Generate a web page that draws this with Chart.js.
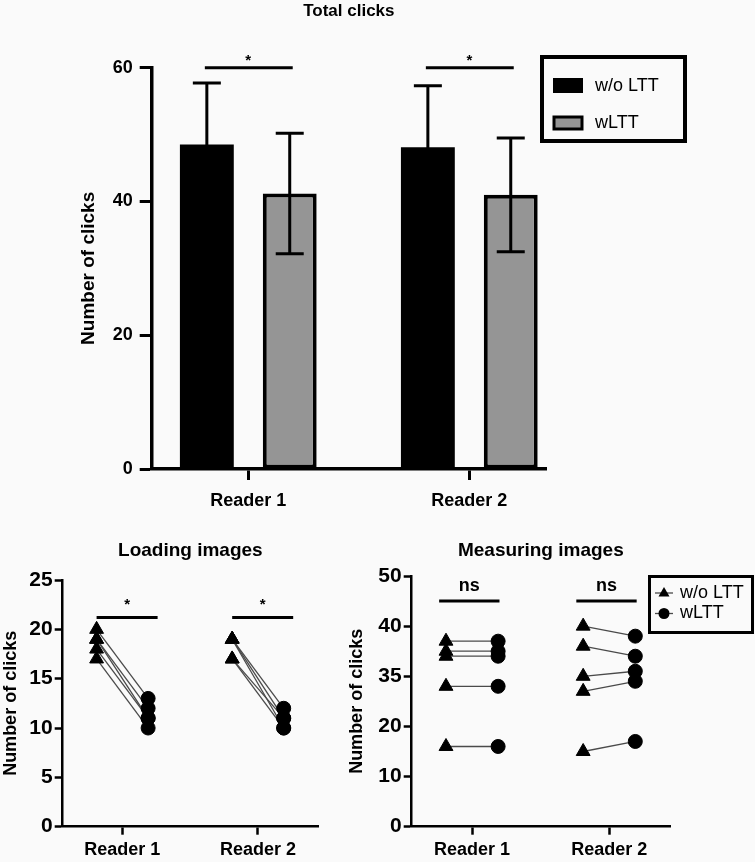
<!DOCTYPE html>
<html>
<head>
<meta charset="utf-8">
<script src="https://cdn.jsdelivr.net/npm/chart.js@4.4.0/dist/chart.umd.min.js"></script>
<style>
body { margin: 0; background: #fafafa; }
#wrap { position: relative; width: 755px; height: 862px; }
canvas { position: absolute; }
</style>
</head>
<body>
<div id="wrap">
  <canvas id="total" width="755" height="520" style="left:0;top:0"></canvas>
  <canvas id="loading" width="340" height="342" style="left:0;top:520px"></canvas>
  <canvas id="measuring" width="415" height="342" style="left:340px;top:520px"></canvas>
</div>
<script>
// ---- data ----
var readers = ['Reader 1', 'Reader 2'];
var readerPos = [1, 2];
var groups = ['w/o LTT', 'wLTT'];

// total clicks (mean and SD)
var totalWithout = [48.5, 48.1];
var totalWithoutSD = [9.2, 9.2];
var totalWith = [41.2, 41.0];
var totalWithSD = [9.0, 8.5];
var totalSig = ['*', '*'];

// loading images, paired values per reader
var loadWithoutR1 = [20, 19, 19, 18, 17];
var loadWithR1 = [13, 12, 11, 11, 10];
var loadWithoutR2 = [19, 19, 19, 17, 17];
var loadWithR2 = [12, 11, 10, 11, 10];
var loadSig = ['*', '*'];
var loadTicks = ['0', '5', '10', '15', '20', '25'];

// measuring images, paired values per reader
var measWithoutR1 = [37, 35, 34, 28, 16];
var measWithR1 = [37, 35, 34, 28, 16];
var measWithoutR2 = [40, 36, 30, 27, 15];
var measWithR2 = [38, 34, 31, 29, 17];
var measSig = ['ns', 'ns'];
var measTicks = ['0', '10', '20', '35', '40', '50'];

/*****************************************/
var FONT = '"Liberation Sans", Arial, sans-serif';
Chart.defaults.font.family = FONT;
Chart.defaults.color = '#000';

// titre au dessus de la zone du graphe
function titlePlugin(text, y, size) {
  return {
    id: 'titre',
    afterDraw: function(chart) {
      var ctx = chart.ctx, a = chart.chartArea;
      ctx.save();
      ctx.font = 'bold ' + size + 'px ' + FONT;
      ctx.fillStyle = '#000';
      ctx.textAlign = 'center';
      ctx.textBaseline = 'middle';
      ctx.fillText(text, (a.left + a.right) / 2, y);
      ctx.restore();
    }
  };
}

// barres d'erreur + lignes de significativite
var errorBars = {
  id: 'errorBars',
  afterDatasetsDraw: function(chart) {
    var ctx = chart.ctx, ys = chart.scales.y;
    var sds = [totalWithoutSD, totalWithSD];
    ctx.save();
    ctx.strokeStyle = '#000';
    ctx.lineWidth = 3;
    chart.data.datasets.forEach(function(ds, i) {
      chart.getDatasetMeta(i).data.forEach(function(bar, j) {
        var m = ds.data[j].y, sd = sds[i][j];
        var top = ys.getPixelForValue(m + sd), bot = ys.getPixelForValue(m - sd);
        ctx.beginPath();
        ctx.moveTo(bar.x, top); ctx.lineTo(bar.x, bot);
        ctx.moveTo(bar.x - 14, top); ctx.lineTo(bar.x + 14, top);
        ctx.moveTo(bar.x - 14, bot); ctx.lineTo(bar.x + 14, bot);
        ctx.stroke();
      });
    });
    // significativite
    var m0 = chart.getDatasetMeta(0).data, m1 = chart.getDatasetMeta(1).data;
    var yl = ys.getPixelForValue(60);
    ctx.font = 'bold 15px ' + FONT;
    ctx.fillStyle = '#000';
    ctx.textAlign = 'center';
    ctx.textBaseline = 'middle';
    for (var j = 0; j < m0.length; j++) {
      ctx.beginPath();
      ctx.moveTo(m0[j].x - 2, yl); ctx.lineTo(m1[j].x + 3, yl);
      ctx.stroke();
      ctx.fillText(totalSig[j], (m0[j].x + m1[j].x) / 2, yl - 7);
    }
    ctx.restore();
  }
};

var totalLegend = {
  id: 'totalLegend',
  afterDraw: function(chart) {
    var ctx = chart.ctx;
    ctx.save();
    ctx.strokeStyle = '#000';
    ctx.lineWidth = 4;
    ctx.strokeRect(542, 57, 143, 84);
    ctx.font = '18px ' + FONT;
    ctx.textBaseline = 'middle';
    ctx.fillStyle = '#000';
    ctx.fillRect(553, 78, 30, 15);
    ctx.fillText(chart.data.datasets[0].label, 595, 86);
    ctx.fillStyle = chart.data.datasets[1].backgroundColor;
    ctx.fillRect(554, 117, 28, 12);
    ctx.lineWidth = 3;
    ctx.strokeRect(554, 117, 28, 12);
    ctx.fillStyle = '#000';
    ctx.fillText(chart.data.datasets[1].label, 595, 123);
    ctx.restore();
  }
};

new Chart(document.getElementById('total'), {
  type: 'bar',
  data: {
    datasets: [{
      label: groups[0],
      data: readerPos.map(function(x, i) { return {x: x, y: totalWithout[i]}; }),
      backgroundColor: '#000',
      borderWidth: 0
    }, {
      label: groups[1],
      data: readerPos.map(function(x, i) { return {x: x, y: totalWith[i]}; }),
      backgroundColor: '#959595',
      borderColor: '#000',
      borderWidth: 4,
      borderSkipped: false
    }]
  },
  options: {
    responsive: false,
    animation: false,
    devicePixelRatio: 1,
    layout: {padding: {left: 70, top: 67.7, right: 209, bottom: 0}},
    datasets: {bar: {categoryPercentage: 0.75, barPercentage: 0.65}},
    plugins: {legend: {display: false}, tooltip: {enabled: false}},
    scales: {
      x: {
        type: 'linear', min: 0.563, max: 2.347, offset: false,
        afterBuildTicks: function(s) { s.ticks = readerPos.map(function(v) { return {value: v}; }); },
        afterFit: function(s) { s.height = 51; },
        ticks: {callback: function(v, i) { return readers[i]; }, font: {size: 18, weight: 'bold'}, padding: 10, maxRotation: 0},
        grid: {offset: false, drawOnChartArea: false, tickLength: 11, tickWidth: 3, tickColor: '#000'},
        border: {color: '#000', width: 3.5}
      },
      y: {
        min: 0, max: 60,
        afterFit: function(s) { s.width = 81.7; },
        ticks: {stepSize: 20, font: {size: 18, weight: 'bold'}, padding: 7},
        grid: {drawOnChartArea: false, tickLength: 12, tickWidth: 3, tickColor: '#000'},
        border: {color: '#000', width: 3.5},
        title: {display: true, text: 'Number of clicks', font: {size: 19, weight: 'bold'}, padding: {top: 7, bottom: 0}}
      }
    }
  },
  plugins: [errorBars, totalLegend, titlePlugin('Total clicks', 11, 17)]
});

/*****************************************/
var pairOffset = 0.19;

function pairDatasets(without, withL) {
  var sets = [];
  for (var r = 0; r < without.length; r++) {
    for (var k = 0; k < without[r].length; k++) {
      sets.push({
        label: groups[0] + ' / ' + groups[1],
        data: [{x: readerPos[r] - pairOffset, y: without[r][k]}, {x: readerPos[r] + pairOffset, y: withL[r][k]}],
        showLine: true,
        borderColor: '#4a4a4a',
        borderWidth: 1.3,
        pointStyle: ['triangle', 'circle'],
        pointRadius: [8, 7],
        pointBackgroundColor: '#000',
        pointBorderColor: '#000',
        pointBorderWidth: 1
      });
    }
  }
  return sets;
}

function sigPlugin(labels, yVal, span) {
  return {
    id: 'sig',
    afterDatasetsDraw: function(chart) {
      var ctx = chart.ctx, xs = chart.scales.x, ys = chart.scales.y;
      var yl = ys.getPixelForValue(yVal);
      ctx.save();
      ctx.strokeStyle = '#000';
      ctx.lineWidth = 3;
      ctx.fillStyle = '#000';
      ctx.textAlign = 'center';
      ctx.textBaseline = 'middle';
      readerPos.forEach(function(p, i) {
        var x0 = xs.getPixelForValue(p + span[0]), x1 = xs.getPixelForValue(p + span[1]);
        ctx.beginPath(); ctx.moveTo(x0, yl); ctx.lineTo(x1, yl); ctx.stroke();
        var star = labels[i] === '*';
        ctx.font = 'bold ' + (star ? 15 : 18) + 'px ' + FONT;
        ctx.fillText(labels[i], (x0 + x1) / 2, yl - (star ? 13 : 15));
      });
      ctx.restore();
    }
  };
}

var markerLegend = {
  id: 'markerLegend',
  afterDraw: function(chart) {
    var ctx = chart.ctx;
    ctx.save();
    ctx.strokeStyle = '#000';
    ctx.lineWidth = 3;
    ctx.strokeRect(309.5, 56.5, 103, 56);
    ctx.font = '18px ' + FONT;
    ctx.textBaseline = 'middle';
    ctx.fillStyle = '#000';
    var rows = [[73, 'triangle'], [93.5, 'circle']];
    rows.forEach(function(r, i) {
      var y = r[0], cx = 324;
      ctx.lineWidth = 1.3;
      ctx.strokeStyle = '#4a4a4a';
      ctx.beginPath(); ctx.moveTo(315, y); ctx.lineTo(333, y); ctx.stroke();
      ctx.beginPath();
      if (r[1] === 'triangle') {
        ctx.moveTo(cx, y - 6); ctx.lineTo(cx + 5.5, y + 3.5); ctx.lineTo(cx - 5.5, y + 3.5); ctx.closePath();
      } else {
        ctx.arc(cx, y, 5.5, 0, Math.PI * 2);
      }
      ctx.fill();
      ctx.fillText(groups[i], 340, y);
    });
    ctx.restore();
  }
};

function pairedChart(id, without, withL, yMax, yStep, tickLabels, sig, sigY, sigSpan, title, pad, yWidth, extra) {
  var plugins = [sigPlugin(sig, sigY, sigSpan), titlePlugin(title, 31, 19)];
  if (extra) plugins.push(extra);
  return new Chart(document.getElementById(id), {
    type: 'scatter',
    data: {datasets: pairDatasets(without, withL)},
    options: {
      responsive: false,
      animation: false,
      devicePixelRatio: 1,
      layout: {padding: pad},
      plugins: {legend: {display: false}, tooltip: {enabled: false}},
      scales: {
        x: {
          type: 'linear', min: 0.56, max: 2.443,
          afterBuildTicks: function(s) { s.ticks = readerPos.map(function(v) { return {value: v}; }); },
          afterFit: function(s) { s.height = 35.3; },
          ticks: {callback: function(v, i) { return readers[i]; }, font: {size: 18, weight: 'bold'}, padding: 5, maxRotation: 0},
          grid: {drawOnChartArea: false, tickLength: 8, tickWidth: 2.5, tickColor: '#000'},
          border: {color: '#000', width: 2.5}
        },
        y: {
          min: 0, max: yMax,
          afterFit: function(s) { s.width = yWidth; },
          ticks: {stepSize: yStep, font: {size: 21, weight: 'bold'}, padding: 2, callback: function(v, i) { return tickLabels[i]; }},
          grid: {drawOnChartArea: false, tickLength: 8, tickWidth: 2.5, tickColor: '#000'},
          border: {color: '#000', width: 2.5},
          title: {display: true, text: 'Number of clicks', font: {size: 18, weight: 'bold'}, padding: {top: 0, bottom: 0}}
        }
      }
    },
    plugins: plugins
  });
}

pairedChart('loading', [loadWithoutR1, loadWithoutR2], [loadWithR1, loadWithR2], 25, 5, loadTicks,
  loadSig, 21.2, [-0.19, 0.26], 'Loading images', {left: 0, top: 60, right: 22, bottom: 0}, 62.7, null);

pairedChart('measuring', [measWithoutR1, measWithoutR2], [measWithR1, measWithR2], 50, 10, measTicks,
  measSig, 45, [-0.24, 0.2], 'Measuring images', {left: 6, top: 56, right: 85, bottom: 0}, 65.7, markerLegend);
</script>
</body>
</html>
